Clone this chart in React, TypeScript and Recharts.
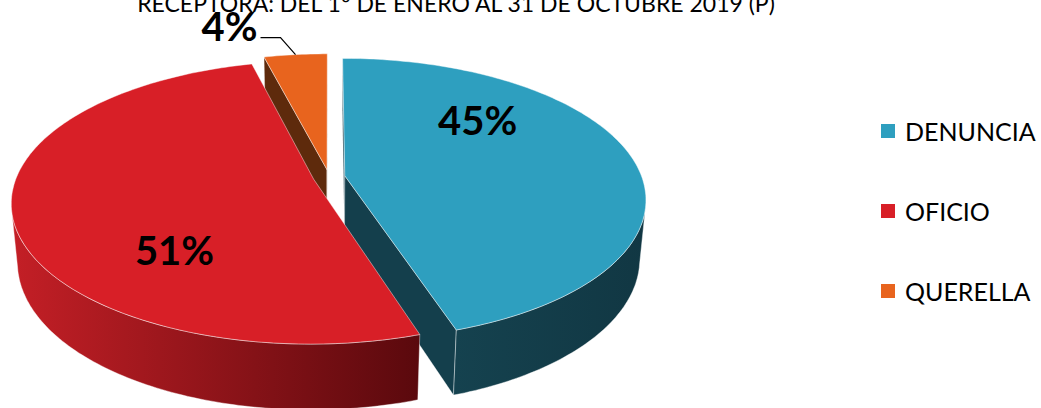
import { PieChart, Pie, Cell, Legend } from "recharts";

const categories = ["DENUNCIA", "OFICIO", "QUERELLA"];
const shares = [45, 51, 4];
const heading = "RECEPTORA: DEL 1° DE ENERO AL 31 DE OCTUBRE 2019 (P)";

const rows = categories.map((name, i) => ({ name, value: shares[i] }));

const topColor: Record<string, string> = {
  DENUNCIA: "#2E9FBF",
  OFICIO: "#D81F27",
  QUERELLA: "#E8641E",
};
const wallColor: Record<string, [string, string]> = {
  DENUNCIA: ["#15424F", "#113743"],
  OFICIO: ["#C41F26", "#5A090D"],
  QUERELLA: ["#6A300F", "#4E2209"],
};
const cutColor: Record<string, string> = {
  DENUNCIA: "#143F4C",
  OFICIO: "#8E1419",
  QUERELLA: "#5E2A0C",
};

// fake 3d: disk in x/z plane, viewed from above with a bit of perspective
const TILT = (27.5 * Math.PI) / 180;
const DIST = 5.4;
const DEPTH = 0.225;
const EXPLODE = 0.054;
const rad = (d: number) => (d * Math.PI) / 180;

function proj(cx: number, cy: number, r: number, x: number, y: number, z: number) {
  const w = DIST - (z * Math.cos(TILT) + y * Math.sin(TILT));
  const k = (r * DIST) / w;
  return [cx + k * x, cy + k * (z * Math.sin(TILT) - y * Math.cos(TILT))];
}

function geom(p: any) {
  const t0 = 90 - p.startAngle;
  const t1 = 90 - p.endAngle;
  const tm = (t0 + t1) / 2;
  const ox = EXPLODE * Math.sin(rad(tm));
  const oz = -EXPLODE * Math.cos(rad(tm));
  const rim = (t: number, y: number) =>
    proj(p.cx, p.cy, p.outerRadius, ox + Math.sin(rad(t)), y, oz - Math.cos(rad(t)));
  const apex = (y: number) => proj(p.cx, p.cy, p.outerRadius, ox, y, oz);
  return { t0, t1, tm, ox, oz, rim, apex };
}

const pts = (list: number[][]) => list.map((q) => `${q[0].toFixed(1)},${q[1].toFixed(1)}`).join(" ");

function arc(from: number, to: number, f: (t: number) => number[]) {
  const out: number[][] = [];
  const n = Math.max(2, Math.ceil(Math.abs(to - from)));
  for (let i = 0; i <= n; i++) out.push(f(from + ((to - from) * i) / n));
  return out;
}

function SliceWalls(props: any) {
  const name = props.payload?.name ?? props.name;
  const g = geom(props);
  const camZ = DIST * Math.cos(TILT);
  const parts: any[] = [];

  // the two cut faces, only when they face the viewer
  [
    { t: g.t0, n: g.t0 - 90 },
    { t: g.t1, n: g.t1 + 90 },
  ].forEach((e, i) => {
    const s = Math.sin(rad(e.n));
    const c = Math.cos(rad(e.n));
    if (-g.ox * s - (camZ - g.oz) * c <= 0) return;
    const poly = [g.apex(0), g.rim(e.t, 0), g.rim(e.t, -DEPTH), g.apex(-DEPTH)];
    parts.push(
      <polygon key={"cut" + i} points={pts(poly)} fill={cutColor[name]} stroke="rgba(255,255,255,0.45)" strokeWidth={0.8} />
    );
  });

  // outer wall, front part only
  const a = (Math.acos(-1 / camZ) * 180) / Math.PI;
  const lo = Math.max(g.t0, a);
  const hi = Math.min(g.t1, 360 - a);
  if (lo < hi) {
    const poly = [...arc(lo, hi, (t) => g.rim(t, 0)), ...arc(hi, lo, (t) => g.rim(t, -DEPTH))];
    const id = "wall-" + name;
    parts.push(
      <g key="wall">
        <defs>
          <linearGradient id={id} x1="0" y1="0" x2="1" y2="0">
            <stop offset="0%" stopColor={wallColor[name][0]} />
            <stop offset="100%" stopColor={wallColor[name][1]} />
          </linearGradient>
        </defs>
        <polygon points={pts(poly)} fill={`url(#${id})`} stroke="rgba(255,255,255,0.5)" strokeWidth={0.8} />
      </g>
    );
  }
  return <g>{parts}</g>;
}

function SliceTop(props: any) {
  const name = props.payload?.name ?? props.name;
  const g = geom(props);
  const poly = [g.apex(0), ...arc(g.t0, g.t1, (t) => g.rim(t, 0))];
  return <polygon points={pts(poly)} fill={topColor[name]} stroke="rgba(255,255,255,0.55)" strokeWidth={0.8} />;
}

const labelFont = { fontFamily: "Lato, 'Open Sans', sans-serif", fontWeight: 700, fontSize: 40, fill: "#000" };

function SliceLabel(props: any) {
  const { cx, cy, outerRadius, midAngle, percent } = props;
  const text = `${Math.round(percent * 100)}%`;
  const tm = 90 - midAngle;
  if (percent >= 0.1) {
    // inside labels sit a bit counter-clockwise of the middle, like excel's best fit
    const t = tm - 30;
    const [x, y] = proj(cx, cy, outerRadius, 0.69 * Math.sin(rad(t)), 0, -0.69 * Math.cos(rad(t)));
    return (
      <text x={x} y={y} dy={14} textAnchor="middle" {...labelFont}>
        {text}
      </text>
    );
  }
  const ox = EXPLODE * Math.sin(rad(tm));
  const oz = -EXPLODE * Math.cos(rad(tm));
  const [x0, y0] = proj(cx, cy, outerRadius, ox + Math.sin(rad(tm)), 0, oz - Math.cos(rad(tm)));
  const x1 = x0 - 15;
  const y1 = y0 - 17;
  const x2 = x1 - 20;
  return (
    <g>
      <polyline points={`${x0},${y0} ${x1},${y1} ${x2},${y1}`} fill="none" stroke="#000" strokeWidth={1.2} />
      <text x={x2 - 3} y={y1 + 3} textAnchor="end" {...labelFont}>
        {text}
      </text>
    </g>
  );
}

function LegendList({ payload }: any) {
  const items = (payload ?? []).filter((p: any) => p.type !== "none");
  return (
    <div>
      {items.map((p: any) => (
        <div key={p.value} style={{ display: "flex", alignItems: "center", height: 80 }}>
          <span style={{ width: 14, height: 14, background: p.color, marginRight: 10, flex: "none" }} />
          <span style={{ fontFamily: "Lato, sans-serif", fontSize: 25, color: "#000", lineHeight: 1 }}>{p.value}</span>
        </div>
      ))}
    </div>
  );
}

export default function App() {
  return (
    <div style={{ position: "absolute", left: 0, top: 0, background: "#fff" }}>
      <PieChart width={1041} height={408} margin={{ top: 0, right: 0, bottom: 0, left: 0 }}>
        <text x={456} y={12} textAnchor="middle" fontFamily="Lato, sans-serif" fontSize={23} fill="#000">
          {heading}
        </text>
        <Pie
          data={rows}
          dataKey="value"
          nameKey="name"
          cx={329}
          cy={177}
          outerRadius={297}
          startAngle={90}
          endAngle={-270}
          stroke="none"
          legendType="none"
          isAnimationActive={false}
          shape={SliceWalls}
          activeShape={SliceWalls}
          inactiveShape={SliceWalls}
        />
        <Pie
          data={rows}
          dataKey="value"
          nameKey="name"
          cx={329}
          cy={177}
          outerRadius={297}
          startAngle={90}
          endAngle={-270}
          stroke="none"
          legendType="square"
          isAnimationActive={false}
          shape={SliceTop}
          activeShape={SliceTop}
          inactiveShape={SliceTop}
          labelLine={false}
          label={SliceLabel}
        >
          {rows.map((r) => (
            <Cell key={r.name} fill={topColor[r.name]} />
          ))}
        </Pie>
        <Legend
          layout="vertical"
          align="right"
          verticalAlign="middle"
          content={LegendList}
          wrapperStyle={{ position: "absolute", left: 881, top: 91, width: 160 }}
        />
      </PieChart>
    </div>
  );
}
